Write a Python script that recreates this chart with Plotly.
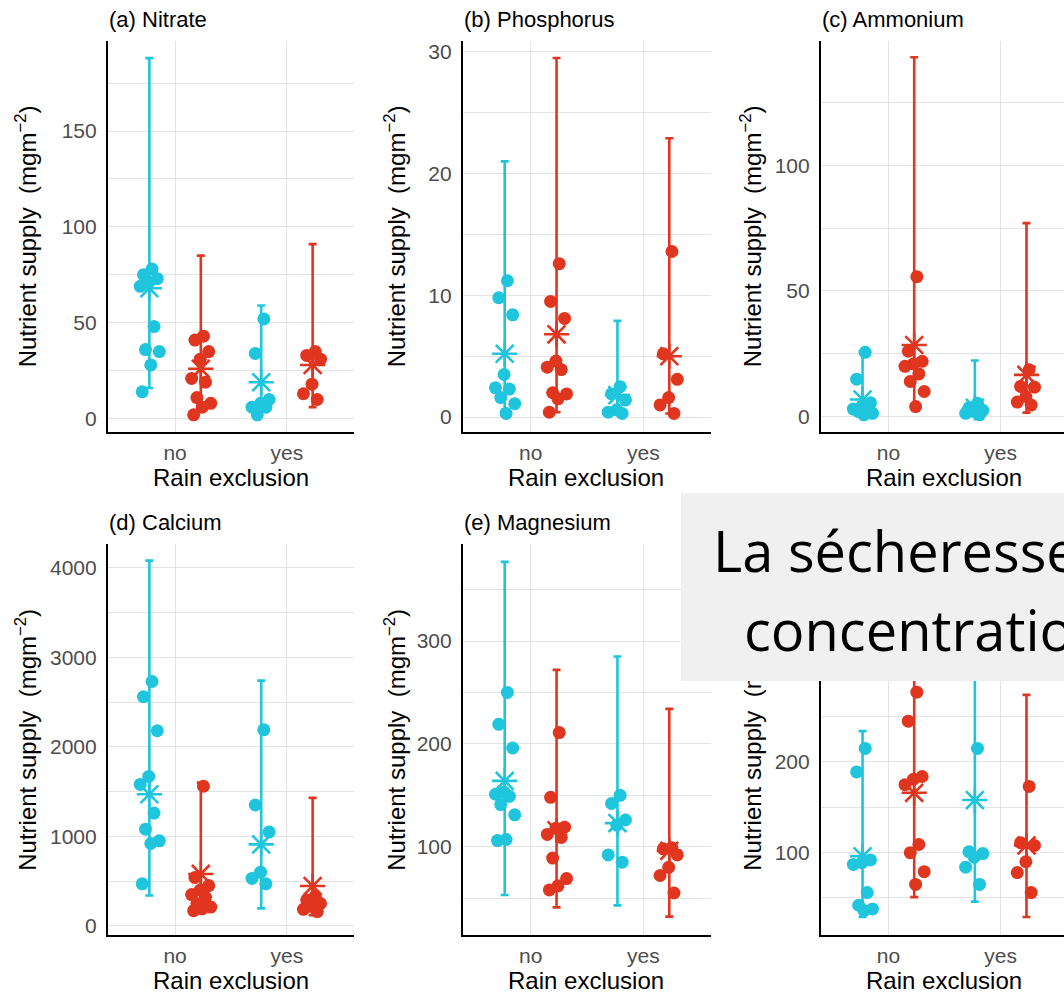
import plotly.graph_objects as go

# ---------------- data ----------------
CATEGORIES = ["no", "yes"]
PANEL_TITLES = ["(a) Nitrate", "(b) Phosphorus", "(c) Ammonium", "(d) Calcium", "(e) Magnesium", ""]
X_TITLE = "Rain exclusion"
Y_TITLE = "Nutrient supply  (mgm<sup>−2</sup>)"

# Nitrate
nitrate_cyan_no = [78, 75, 73, 71, 69, 48, 36, 35, 28, 14]
nitrate_cyan_yes = [52, 34, 10, 8, 6, 6, 2]
nitrate_red_no = [43, 41, 35, 31, 21, 19, 11, 8, 6, 2]
nitrate_red_yes = [35, 33, 31, 18, 13, 10]
nitrate_cyan_mean, nitrate_cyan_lo, nitrate_cyan_hi = [68, 19], [16, 4], [188, 59]
nitrate_red_mean, nitrate_red_lo, nitrate_red_hi = [26, 28], [4, 6], [85, 91]

# Phosphorus
phos_cyan_no = [11.2, 9.8, 8.4, 3.5, 2.4, 2.3, 1.6, 1.1, 0.3]
phos_cyan_yes = [2.5, 1.9, 1.4, 0.6, 0.4, 0.3]
phos_red_no = [12.6, 9.5, 8.1, 4.6, 4.1, 3.9, 2.0, 1.9, 1.5, 0.4]
phos_red_yes = [13.6, 5.2, 3.1, 1.6, 1.0, 0.3]
phos_cyan_mean, phos_cyan_lo, phos_cyan_hi = [5.2, 1.8], [0.6, 0.3], [21.0, 7.9]
phos_red_mean, phos_red_lo, phos_red_hi = [6.8, 5.0], [0.4, 0.3], [29.5, 22.9]

# Ammonium
amm_cyan_no = [25.6, 14.9, 5.5, 4.2, 3.0, 2.4, 2.0, 1.3, 0.7]
amm_cyan_yes = [5.3, 3.5, 2.5, 2.0, 1.3, 0.7]
amm_red_no = [55.7, 26, 22, 21, 20, 17, 14, 10, 4]
amm_red_yes = [18.6, 12.0, 11.7, 8.0, 5.8, 4.6]
amm_cyan_mean, amm_cyan_lo, amm_cyan_hi = [6.8, 3.5], [0.5, 0.5], [26.0, 22.3]
amm_red_mean, amm_red_lo, amm_red_hi = [28.5, 16.6], [4, 1.6], [143, 77]

# Calcium
ca_cyan_no = [2730, 2560, 2180, 1670, 1580, 1260, 1080, 950, 920, 470]
ca_cyan_yes = [2190, 1350, 1050, 600, 530, 470]
ca_red_no = [1560, 540, 450, 400, 350, 320, 250, 210, 190, 170]
ca_red_yes = [330, 290, 250, 215, 185, 160]
ca_cyan_mean, ca_cyan_lo, ca_cyan_hi = [1470, 910], [340, 195], [4080, 2740]
ca_red_mean, ca_red_lo, ca_red_hi = [580, 445], [150, 120], [1600, 1430]

# Magnesium
mg_cyan_no = [250, 219, 196, 153, 151, 149, 141, 131, 107, 106]
mg_cyan_yes = [150, 142, 126, 121, 92, 85]
mg_red_no = [211, 148, 119, 118, 112, 109, 89, 69, 62, 58]
mg_red_yes = [99, 98, 92, 80, 72, 55]
mg_cyan_mean, mg_cyan_lo, mg_cyan_hi = [164, 123], [53, 43], [377, 285]
mg_red_mean, mg_red_lo, mg_red_hi = [116, 96], [41, 32], [272, 234]

# Panel (f)
f_cyan_no = [215, 189, 92, 89, 87, 56, 42, 38, 36]
f_cyan_yes = [215, 101, 99, 95, 84, 65]
f_red_no = [277, 245, 184, 181, 175, 109, 100, 79, 65]
f_red_yes = [173, 111, 108, 90, 78, 56]
f_cyan_mean, f_cyan_lo, f_cyan_hi = [96, 158], [29, 46], [234, 310]
f_red_mean, f_red_lo, f_red_hi = [166, 108], [51, 29], [340, 274]

OVERLAY_LINE1 = "La sécheresse"
OVERLAY_LINE2 = "concentration"

# ---------------- styling / layout ----------------
W, H = 1064, 996
CYAN = "#1FC5DC"
RED = "#E0351F"
GRID = "#e3e3e3"
FONT = "Liberation Sans, Arial, sans-serif"

def fx(p):
    return p / W

def fy(p):
    return 1 - p / H

COL_PX = [(108, 354), (463, 711), (821, 1064)]
ROW_PX = [(40, 432), (545, 937)]
X_RANGES = [[0.4, 2.6], [0.4, 2.6], [0.4, 2.564]]
YTITLE_X = [26, 395, 751]
XTITLE_Y = [478, 982]
TITLE_Y = [19, 523]

panels = [
    dict(cyan=[nitrate_cyan_no, nitrate_cyan_yes], red=[nitrate_red_no, nitrate_red_yes],
         cm=nitrate_cyan_mean, cl=nitrate_cyan_lo, ch=nitrate_cyan_hi,
         rm=nitrate_red_mean, rl=nitrate_red_lo, rh=nitrate_red_hi,
         yr=[-6.8, 197], dt=50, mdt=25),
    dict(cyan=[phos_cyan_no, phos_cyan_yes], red=[phos_red_no, phos_red_yes],
         cm=phos_cyan_mean, cl=phos_cyan_lo, ch=phos_cyan_hi,
         rm=phos_red_mean, rl=phos_red_lo, rh=phos_red_hi,
         yr=[-1.2, 30.9], dt=10, mdt=5),
    dict(cyan=[amm_cyan_no, amm_cyan_yes], red=[amm_red_no, amm_red_yes],
         cm=amm_cyan_mean, cl=amm_cyan_lo, ch=amm_cyan_hi,
         rm=amm_red_mean, rl=amm_red_lo, rh=amm_red_hi,
         yr=[-6, 149.5], dt=50, mdt=25),
    dict(cyan=[ca_cyan_no, ca_cyan_yes], red=[ca_red_no, ca_red_yes],
         cm=ca_cyan_mean, cl=ca_cyan_lo, ch=ca_cyan_hi,
         rm=ca_red_mean, rl=ca_red_lo, rh=ca_red_hi,
         yr=[-104, 4262], dt=1000, mdt=500),
    dict(cyan=[mg_cyan_no, mg_cyan_yes], red=[mg_red_no, mg_red_yes],
         cm=mg_cyan_mean, cl=mg_cyan_lo, ch=mg_cyan_hi,
         rm=mg_red_mean, rl=mg_red_lo, rh=mg_red_hi,
         yr=[14, 394], dt=100, mdt=50),
    dict(cyan=[f_cyan_no, f_cyan_yes], red=[f_red_no, f_red_yes],
         cm=f_cyan_mean, cl=f_cyan_lo, ch=f_cyan_hi,
         rm=f_red_mean, rl=f_red_lo, rh=f_red_hi,
         yr=[9, 440], dt=100, mdt=50),
]

DODGE = 0.23
JIT = 0.2


def jitter(k):
    # deterministic spread (golden-ratio sequence), not data
    return ((k * 0.6180339887) % 1 - 0.5) * JIT


fig = go.Figure()
layout = dict(width=W, height=H, margin=dict(l=0, r=0, t=0, b=0),
              paper_bgcolor="white", plot_bgcolor="white", showlegend=False,
              font=dict(family=FONT))
annotations = []

for i, p in enumerate(panels):
    r, c = divmod(i, 3)
    sfx = "" if i == 0 else str(i + 1)
    xa, ya = "x" + sfx, "y" + sfx
    x0, x1 = COL_PX[c]
    y0, y1 = ROW_PX[r]
    layout["xaxis" + sfx] = dict(
        domain=[fx(x0), fx(x1)], range=X_RANGES[c], anchor=ya,
        tickvals=[1, 2], ticktext=CATEGORIES, showgrid=True, gridcolor=GRID, gridwidth=1,
        zeroline=False, showline=True, linecolor="black", linewidth=2.2,
        ticks="outside", ticklen=1, tickcolor="rgba(0,0,0,0)",
        tickfont=dict(size=21, color="#4d4d4d", family=FONT))
    layout["yaxis" + sfx] = dict(
        domain=[fy(y1), fy(y0)], range=p["yr"], anchor=xa,
        tick0=0, dtick=p["dt"], showgrid=True, gridcolor=GRID, gridwidth=1,
        minor=dict(tick0=0, dtick=p["mdt"], showgrid=True, gridcolor=GRID, gridwidth=1),
        zeroline=False, showline=True, linecolor="black", linewidth=2.2,
        ticks="outside", ticklen=5, tickcolor="rgba(0,0,0,0)",
        tickfont=dict(size=21, color="#4d4d4d", family=FONT))

    for color, off, pts, mean, lo, hi in [
        (CYAN, -DODGE, p["cyan"], p["cm"], p["cl"], p["ch"]),
        (RED, DODGE, p["red"], p["rm"], p["rl"], p["rh"]),
    ]:
        xs_mean = [1 + off, 2 + off]
        fig.add_trace(go.Scatter(
            x=xs_mean, y=mean, xaxis=xa, yaxis=ya, mode="markers",
            marker=dict(size=1, color="rgba(0,0,0,0)"),
            error_y=dict(type="data", symmetric=False,
                         array=[h - m for h, m in zip(hi, mean)],
                         arrayminus=[m - l for m, l in zip(mean, lo)],
                         color=color, thickness=2.6, width=4),
            hoverinfo="skip"))
        px_, py_ = [], []
        for ci, vals in enumerate(pts):
            for k, v in enumerate(vals):
                px_.append(ci + 1 + off + jitter(k + 1))
                py_.append(v)
        fig.add_trace(go.Scatter(
            x=px_, y=py_, xaxis=xa, yaxis=ya, mode="markers",
            marker=dict(size=13, color=color, line=dict(width=0))))
        fig.add_trace(go.Scatter(
            x=xs_mean, y=mean, xaxis=xa, yaxis=ya, mode="markers",
            marker=dict(symbol="asterisk-open", size=21, color=color,
                        line=dict(width=2.6, color=color))))

    # titles
    if PANEL_TITLES[i]:
        annotations.append(dict(xref="paper", yref="paper", x=fx(x0 - 1), y=fy(TITLE_Y[r]),
                                xanchor="left", yanchor="middle", showarrow=False,
                                text=PANEL_TITLES[i], font=dict(size=22, color="black", family=FONT)))
    annotations.append(dict(xref="paper", yref="paper", x=fx(x0 + 123),
                            y=fy(XTITLE_Y[r]), xanchor="center", yanchor="middle", showarrow=False,
                            text=X_TITLE, font=dict(size=24, color="black", family=FONT)))
    annotations.append(dict(xref="paper", yref="paper", x=fx(YTITLE_X[c]), y=fy((y0 + y1) / 2),
                            xanchor="center", yanchor="middle", showarrow=False, textangle=-90,
                            text=Y_TITLE, font=dict(size=24, color="black", family=FONT)))

# overlay box (drawn last so it covers everything beneath)
annotations.append(dict(xref="paper", yref="paper", x=fx(681), y=fy(493), xanchor="left", yanchor="top",
                        showarrow=False, text=" ", width=520, height=188, bgcolor="#f0f0f0",
                        borderpad=0, borderwidth=0, align="left"))
annotations.append(dict(xref="paper", yref="paper", x=fx(711), y=fy(551), xanchor="left", yanchor="middle",
                        showarrow=False, text=OVERLAY_LINE1,
                        font=dict(size=56, color="black", family="Open Sans")))
annotations.append(dict(xref="paper", yref="paper", x=fx(742), y=fy(630), xanchor="left", yanchor="middle",
                        showarrow=False, text=OVERLAY_LINE2,
                        font=dict(size=56, color="black", family="Open Sans")))

layout["annotations"] = annotations
fig.update_layout(**layout)
fig.write_html("out.html")
